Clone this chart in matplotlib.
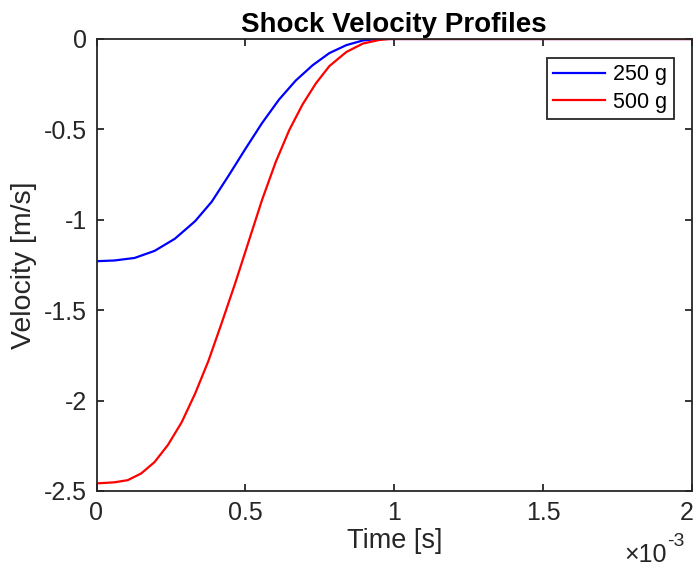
import matplotlib
matplotlib.use("Agg")
import matplotlib.pyplot as plt
import matplotlib.transforms as mtransforms

plt.rcParams['font.family'] = ['Liberation Sans', 'DejaVu Sans']
plt.rcParams['axes.unicode_minus'] = False

# Data (time in seconds, velocity in m/s)
t_250 = [0, 0.060e-3, 0.128e-3, 0.195e-3, 0.263e-3, 0.331e-3, 0.387e-3, 0.444e-3, 0.500e-3,
         0.556e-3, 0.613e-3, 0.669e-3, 0.726e-3, 0.782e-3, 0.839e-3, 0.895e-3, 0.940e-3,
         0.960e-3, 2.0e-3]
v_250 = [-1.229, -1.225, -1.211, -1.172, -1.105, -1.008, -0.900, -0.755, -0.608,
         -0.465, -0.335, -0.230, -0.145, -0.078, -0.034, -0.008, -0.001,
         0.0, 0.0]

t_500 = [0, 0.060e-3, 0.105e-3, 0.150e-3, 0.195e-3, 0.240e-3, 0.286e-3, 0.331e-3, 0.376e-3,
         0.421e-3, 0.466e-3, 0.511e-3, 0.556e-3, 0.602e-3, 0.647e-3, 0.692e-3, 0.737e-3,
         0.782e-3, 0.839e-3, 0.895e-3, 0.951e-3, 0.985e-3, 2.0e-3]
v_500 = [-2.458, -2.452, -2.440, -2.403, -2.340, -2.245, -2.120, -1.962, -1.780,
         -1.568, -1.350, -1.120, -0.890, -0.680, -0.505, -0.362, -0.245,
         -0.150, -0.072, -0.025, -0.005, 0.0, 0.0]

series_labels = ['250 g', '500 g']
series_colors = ['#0000ff', '#ff0000']

x_ticks = [0, 0.5e-3, 1.0e-3, 1.5e-3, 2.0e-3]
x_ticklabels = ['0', '0.5', '1', '1.5', '2']
y_ticks = [-2.5, -2, -1.5, -1, -0.5, 0]
y_ticklabels = ['-2.5', '-2', '-1.5', '-1', '-0.5', '0']

W, H = 696, 571
fig = plt.figure(figsize=(W / 100, H / 100), dpi=100)
ax = fig.add_axes([96.5 / W, 1 - 491 / H, (692 - 96.5) / W, (491 - 39) / H])

ax.plot(t_250, v_250, color=series_colors[0], lw=1.6, label=series_labels[0],
        solid_joinstyle='round')
ax.plot(t_500, v_500, color=series_colors[1], lw=1.6, label=series_labels[1],
        solid_joinstyle='round')

ax.set_xlim(0, 2e-3)
ax.set_ylim(-2.5, 0)
ax.set_xticks(x_ticks)
ax.set_xticklabels(x_ticklabels)
ax.set_yticks(y_ticks)
ax.set_yticklabels(y_ticklabels)

axc = '#262626'
for s in ax.spines.values():
    s.set_color(axc)
    s.set_linewidth(1.3)
ax.tick_params(direction='in', length=5, width=1.3, colors=axc, labelcolor=axc,
               labelsize=18, top=True, right=True, pad=7)

# keep the last x tick label inside the canvas
last = ax.get_xticklabels()[-1]
last.set_transform(last.get_transform() +
                   mtransforms.ScaledTranslation(-5 / 100, 0, fig.dpi_scale_trans))

ax.set_xlabel('Time [s]', fontsize=19.5, color=axc, labelpad=2)
ax.set_ylabel('Velocity [m/s]', fontsize=20.5, color=axc, labelpad=5)
ax.set_title('Shock Velocity Profiles', fontsize=20, fontweight='bold', color='black', pad=5)

fig.text(667 / W, 1 - 562 / H, '\u00d710', ha='right', va='baseline',
         fontsize=18, color=axc)
fig.text(667 / W, 1 - 546 / H, '-3', ha='left', va='baseline',
         fontsize=14, color=axc)

leg = ax.legend(loc='upper right', fontsize=15.5, frameon=True, fancybox=False,
                edgecolor=axc, framealpha=1, borderpad=0.3, handlelength=2.4,
                handletextpad=0.4, labelspacing=0.3, borderaxespad=0,
                bbox_to_anchor=((674 - 96.5) / 595.5, (491 - 58) / 452))
leg.get_frame().set_linewidth(1.3)

fig.savefig('out.png', dpi=100)
